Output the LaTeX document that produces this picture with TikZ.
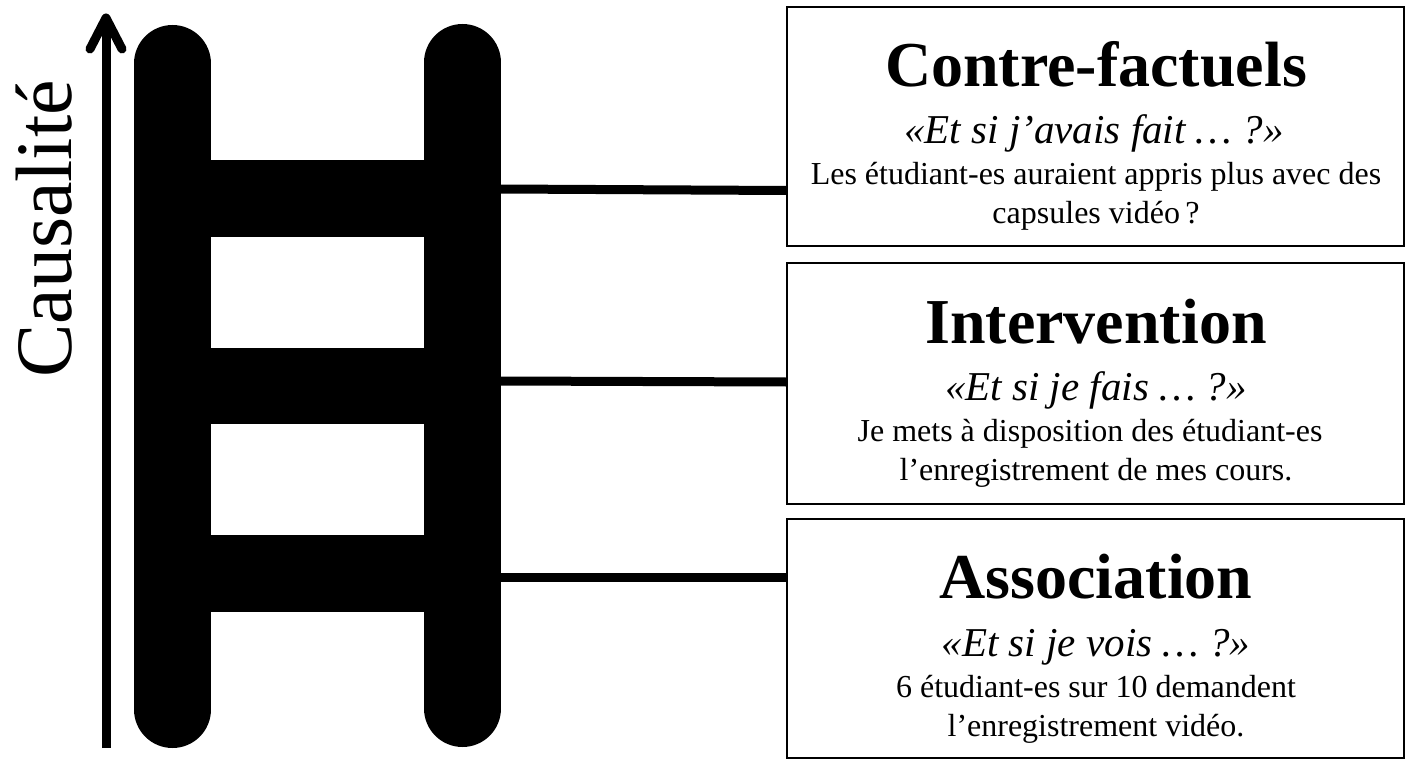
\documentclass[tikz,border=0pt]{standalone}
\usepackage{fontspec}
\setmainfont{Liberation Serif}
\usetikzlibrary{calc}

\tikzset{
  rail/.style={line width=77pt, line cap=round},
  rung/.style={fill=black},
  link/.style={line width=9pt},
  panel/.style={draw, line width=2.2pt, minimum width=617pt, minimum height=239pt, inner sep=0pt},
  ttl/.style={anchor=base, inner sep=0pt, font=\fontsize{64}{70}\selectfont\bfseries},
  quest/.style={anchor=base, inner sep=0pt, font=\fontsize{41}{46}\selectfont\itshape},
  body/.style={anchor=base, inner sep=0pt, font=\fontsize{32}{38}\selectfont},
}

\begin{document}
\begin{tikzpicture}[x=1pt, y=-1pt]
\useasboundingbox (0,0) rectangle (1413,767);

% axis label and arrow
\node[rotate=90, anchor=base, inner sep=0pt, font=\fontsize{80}{84}\selectfont] (lbl) at (71,229) {Causalité};
\coordinate (abot) at (106,748);
\coordinate (atip) at (106,18);
\coordinate (bl) at (90,49);
\coordinate (br) at (122,49);
\draw[line width=9pt] (abot) -- (atip);
\draw[line width=9pt, line cap=round, line join=round] (bl) -- (atip) -- (br);

% ladder
\draw[rail] (172.5,63.5) -- (172.5,709.5);
\draw[rail] (462.5,62.5) -- (462.5,708.5);
\fill[rung] (172.5,160) rectangle (462.5,237);
\fill[rung] (172.5,348) rectangle (462.5,424);
\fill[rung] (172.5,535) rectangle (462.5,612);

% panels
\node[panel] (box1) at (1095.5,126.5) {};
\node[panel, minimum height=241pt] (box2) at (1095.5,383.5) {};
\node[panel] (box3) at (1095.5,638.5) {};

% panel texts
\node[ttl]   (t1) at (1096,87)  {Contre-factuels};
\node[quest] (q1) at (1094,144) {«Et si j’avais fait … ?»};
\node[body]  (a1) at (1096,185) {Les étudiant-es auraient appris plus avec des};
\node[body]  (b1) at (1096,224) {capsules vidéo\,?};

\node[ttl]   (t2) at (1096,343) {Intervention};
\node[quest] (q2) at (1096,400) {«Et si je fais … ?»};
\node[body]  (a2) at (1090,441) {Je mets à disposition des étudiant-es};
\node[body]  (b2) at (1096,480) {l’enregistrement de mes cours.};

\node[ttl]   (t3) at (1096,598) {Association};
\node[quest] (q3) at (1096,656) {«Et si je vois … ?»};
\node[body]  (a3) at (1096,697) {6 étudiant-es sur 10 demandent};
\node[body]  (b3) at (1096,736) {l’enregistrement vidéo.};

% connectors from the ladder to the panels
\coordinate (r1) at (500,189);
\coordinate (r2) at (500,381);
\coordinate (r3) at (500,577.5);
\draw[link] (r1) -- ($(box1.west)+(0,64)$);
\draw[link] (r2) -- ($(box2.west)+(0,-1.5)$);
\draw[link] (r3) -- ($(box3.west)+(0,-61)$);
\end{tikzpicture}
\end{document}
